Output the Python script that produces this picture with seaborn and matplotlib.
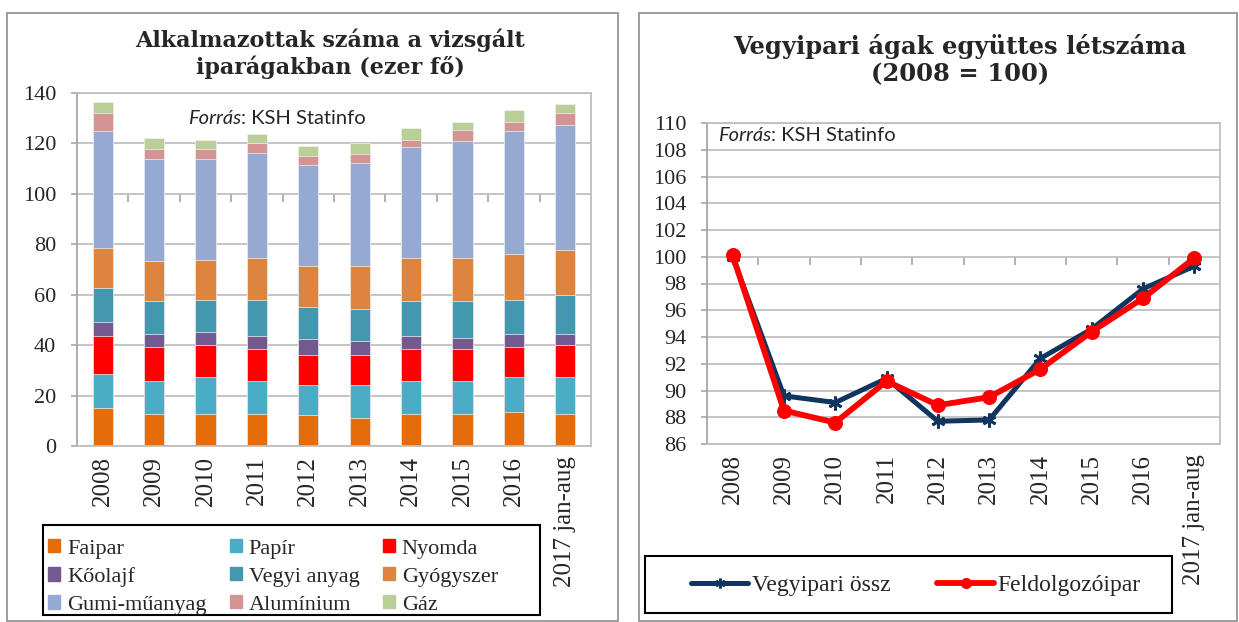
import numpy as np
import pandas as pd
import matplotlib.pyplot as plt
import matplotlib.patches as mpatches
from matplotlib.lines import Line2D
import seaborn as sns

# categories
years = ['2008', '2009', '2010', '2011', '2012', '2013', '2014', '2015', '2016', '2017 jan-aug']

# left chart: employees by branch (thousand persons)
faipar = [15.2, 12.8, 12.8, 12.8, 12.1, 11.3, 12.8, 12.8, 13.6, 12.8]
papir = [13.5, 12.9, 14.5, 12.9, 12.0, 12.8, 12.9, 12.9, 13.7, 14.5]
nyomda = [15.0, 13.4, 12.6, 12.6, 11.8, 11.8, 12.6, 12.6, 11.8, 12.6]
koolaj = [5.6, 5.5, 5.5, 5.4, 6.4, 5.6, 5.4, 4.6, 5.5, 4.7]
vegyi = [13.5, 12.8, 12.7, 14.4, 12.7, 12.7, 13.7, 14.5, 13.5, 15.1]
gyogyszer = [15.9, 15.8, 15.8, 16.6, 16.5, 17.3, 17.3, 17.3, 18.2, 18.2]
gumi = [46.1, 40.6, 39.9, 41.5, 39.9, 40.7, 43.8, 46.1, 48.5, 49.3]
aluminium = [7.1, 3.8, 3.8, 3.8, 3.8, 3.8, 3.0, 4.6, 3.8, 4.7]
gaz = [4.7, 4.7, 3.9, 3.8, 3.9, 4.0, 4.7, 3.2, 4.8, 3.9]

branch_names = ['Faipar', 'Papír', 'Nyomda', 'Kőolajf', 'Vegyi anyag', 'Gyógyszer',
                'Gumi-műanyag', 'Alumínium', 'Gáz']
branch_colors = ['#E46C0A', '#4BACC6', '#FF0000', '#725A8F', '#4397AE', '#DD853E',
                 '#95AAD2', '#D49494', '#BACF98']

# right chart: index 2008 = 100
vegyipari = [100.0, 89.6, 89.1, 90.9, 87.7, 87.8, 92.4, 94.6, 97.6, 99.3]
feldolgozo = [100.1, 88.5, 87.6, 90.7, 88.9, 89.5, 91.6, 94.4, 96.9, 99.9]

sns.set_theme(style='white')
plt.rcParams['font.family'] = ['Liberation Serif', 'DejaVu Serif']

W, H = 1239, 622
fig = plt.figure(figsize=(W / 100, H / 100), dpi=100)
grid_c = '#BFBFBF'


def box(x0, y0, x1, y1, color, lw):
    # rectangle in pixel coordinates of the figure (y from top)
    fig.add_artist(mpatches.Rectangle((x0 / W, 1 - y1 / H), (x1 - x0) / W, (y1 - y0) / H,
                                      transform=fig.transFigure, fill=False,
                                      edgecolor=color, lw=lw))


# panel borders
box(7, 13, 618, 621, '#8C8C8C', 1.2)
box(639, 13, 1237, 621, '#8C8C8C', 1.2)

# ---- left: stacked bars ----
ax1 = fig.add_axes([77 / W, 1 - 446 / H, 514 / W, 353 / H])
stack = np.cumsum(np.array([faipar, papir, nyomda, koolaj, vegyi, gyogyszer,
                            gumi, aluminium, gaz]), axis=0)
for i in range(len(branch_names) - 1, -1, -1):
    sns.barplot(x=years, y=stack[i], color=branch_colors[i], saturation=1,
                width=0.39, edgecolor='#F2F2F2', linewidth=0.5, ax=ax1)
ax1.set_xlim(-0.5, len(years) - 0.5)
ax1.set_ylim(0, 140)
ax1.set_yticks(range(0, 141, 20))
ax1.yaxis.grid(True, color=grid_c, lw=1.3)
ax1.set_axisbelow(True)
ax1.set_xlabel('')
ax1.set_ylabel('')
for s in ax1.spines.values():
    s.set_color(grid_c)
    s.set_linewidth(1.3)
ax1.spines['left'].set_color('#A6A6A6')
ax1.tick_params(axis='y', left=True, length=4, width=1.2, color='#A6A6A6',
                labelsize=16, pad=11)
ax1.tick_params(axis='x', labelrotation=90, labelsize=18, length=0, pad=7)

sec1 = ax1.secondary_xaxis(100 / 140)
sec1.set_xticks(np.arange(len(years) - 1) + 0.5)
sec1.tick_params(direction='in', length=6, width=1.4, color='#B0B0B0',
                 labeltop=False, labelbottom=False)
for s in sec1.spines.values():
    s.set_visible(False)

t1 = ax1.text(0.216, 0.929, 'Forrás', transform=ax1.transAxes, fontsize=14.5,
              family='Lato', style='italic', va='center', ha='left')
ax1.annotate(': KSH Statinfo', xy=(1, 0), xycoords=t1, fontsize=14.5,
             family='Lato', va='bottom', ha='left')

fig.text(330 / W, 1 - 54 / H, 'Alkalmazottak száma a vizsgált\niparágakban (ezer fő)',
         ha='center', va='center', fontsize=16, fontweight='bold',
         family='DejaVu Serif', linespacing=1.2)

handles = [mpatches.Patch(color=c) for c in branch_colors]
order = [0, 3, 6, 1, 4, 7, 2, 5, 8]
box(43, 525, 540, 615, 'black', 1.5)
fig.legend([handles[i] for i in order], [branch_names[i] for i in order],
           ncol=3, loc='center', mode='expand',
           bbox_to_anchor=(46 / W, 1 - 622 / H, 454 / W, 90 / H),
           bbox_transform=fig.transFigure, fontsize=16, frameon=False,
           handlelength=0.55, handleheight=0.55, handletextpad=0.3,
           labelspacing=0.38, borderpad=0.1, borderaxespad=0)

# ---- right: lines ----
ax2 = fig.add_axes([707 / W, 1 - 444 / H, 513 / W, 321 / H])
pos = np.arange(len(years))
navy = '#10355F'
red = '#FF0000'
sns.lineplot(x=pos, y=vegyipari, color=navy, lw=3.6, marker=(6, 2, 0),
             markersize=10, markeredgewidth=2, markeredgecolor=navy, ax=ax2)
sns.lineplot(x=pos, y=feldolgozo, color=red, lw=4.2, marker='o',
             markersize=10, markeredgecolor=red, ax=ax2)
ax2.set_xlim(-0.5, len(years) - 0.5)
ax2.set_ylim(86, 110)
ax2.set_yticks(range(86, 111, 2))
ax2.set_xticks(pos)
ax2.set_xticklabels(years)
ax2.yaxis.grid(True, color=grid_c, lw=1.3)
ax2.set_axisbelow(True)
for s in ax2.spines.values():
    s.set_color(grid_c)
    s.set_linewidth(1.3)
ax2.spines['left'].set_color('#A6A6A6')
ax2.tick_params(axis='y', left=True, length=4, width=1.2, color='#A6A6A6',
                labelsize=16, pad=11)
ax2.tick_params(axis='x', labelrotation=90, labelsize=18, length=0, pad=7)

sec2 = ax2.secondary_xaxis((100 - 86) / 24)
sec2.set_xticks(pos[:-1] + 0.5)
sec2.tick_params(direction='in', length=6, width=1.4, color='#B0B0B0',
                 labeltop=False, labelbottom=False)
for s in sec2.spines.values():
    s.set_visible(False)

t2 = ax2.text(0.021, 0.96, 'Forrás', transform=ax2.transAxes, fontsize=14.5,
              family='Lato', style='italic', va='center', ha='left')
ax2.annotate(': KSH Statinfo', xy=(1, 0), xycoords=t2, fontsize=14.5,
             family='Lato', va='bottom', ha='left')

fig.text(960 / W, 1 - 60 / H, 'Vegyipari ágak együttes létszáma\n(2008 = 100)',
         ha='center', va='center', fontsize=17.5, fontweight='bold',
         family='DejaVu Serif', linespacing=1.15)

line_handles = [Line2D([], [], color=navy, lw=3.6, marker=(6, 2, 0), markersize=7,
                       markeredgewidth=1.8),
                Line2D([], [], color=red, lw=4.2, marker='o', markersize=7)]
box(645, 556, 1172, 613, 'black', 1.5)
fig.legend(line_handles, ['Vegyipari össz', 'Feldolgozóipar'],
           ncol=2, loc='center', bbox_to_anchor=(916 / W, 1 - 585 / H),
           bbox_transform=fig.transFigure, fontsize=17, frameon=False,
           handlelength=2.4, handletextpad=0.15, columnspacing=2.0,
           borderpad=0.2, borderaxespad=0)

fig.savefig('out.png', dpi=100, facecolor='white')
